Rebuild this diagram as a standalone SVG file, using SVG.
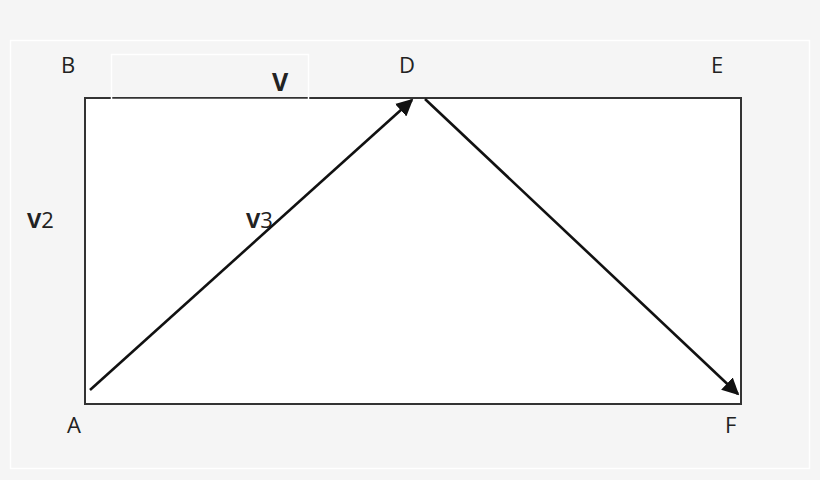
<svg xmlns="http://www.w3.org/2000/svg" width="820" height="480" viewBox="0 0 820 480">
<defs>
<style>
.lbl{font-family:"Open Sans","Liberation Sans",sans-serif;font-size:22px;fill:#222}
.b{font-weight:bold}
.big{font-size:25px}
.edge{stroke:#111;stroke-width:2.6;fill:none}
</style>
<marker id="ah" viewBox="0 0 10 10" refX="9" refY="5" markerWidth="6.5" markerHeight="6.5" orient="auto" markerUnits="strokeWidth">
<path d="M0,0 L10,5 L0,10 z" fill="#111"/>
</marker>
</defs>
<rect x="0" y="0" width="820" height="480" fill="#f5f5f5"/>
<rect x="10.5" y="40.5" width="799" height="428" fill="none" stroke="#ffffff" stroke-width="1.5"/>
<g id="box">
<rect x="85" y="98" width="656" height="306" fill="#ffffff" stroke="#333" stroke-width="2"/>
</g>
<g id="vbox">
<rect x="111.5" y="54.5" width="197" height="45" fill="none" stroke="#ffffff" stroke-width="1.5"/>
<text class="lbl b big" x="272" y="91">V</text>
</g>
<g id="B"><text class="lbl" x="61" y="73">B</text></g>
<g id="D"><text class="lbl" x="399" y="73">D</text></g>
<g id="E"><text class="lbl" x="711" y="73">E</text></g>
<g id="A"><text class="lbl" x="67" y="433">A</text></g>
<g id="F"><text class="lbl" x="725" y="433">F</text></g>
<g id="V2"><text class="lbl" x="27" y="228"><tspan class="b">V</tspan>2</text></g>
<g id="V3"><text class="lbl" x="246" y="228"><tspan class="b">V</tspan>3</text></g>
<g id="connectors">
<line class="edge" x1="90" y1="390" x2="412" y2="100" marker-end="url(#ah)"/>
<line class="edge" x1="425" y1="99" x2="738" y2="394" marker-end="url(#ah)"/>
</g>
</svg>
